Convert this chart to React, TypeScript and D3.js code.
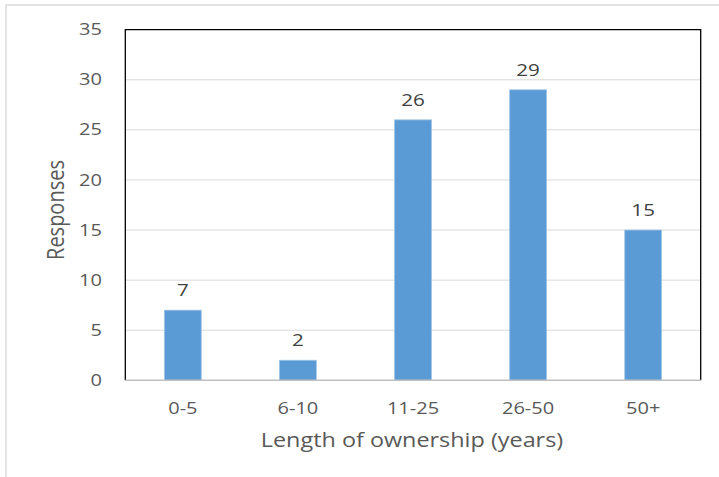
import React from "react";
import * as d3 from "d3";

const categories = ["0-5", "6-10", "11-25", "26-50", "50+"];
const responses = [7, 2, 26, 29, 15];
const yTicks = [0, 5, 10, 15, 20, 25, 30, 35];
const xTitle = "Length of ownership (years)";
const yTitle = "Responses";

const W = 719;
const H = 477;
const plot = { left: 125.3, right: 700.7, top: 29.7, bottom: 380.3 };
const FONT = "'Open Sans', 'Noto Sans', sans-serif";
const TEXT = "#595959";
const KS = 1.25; // horizontal stretch for small labels
const KT = 1.17; // horizontal stretch for titles

export default function App() {
  const x = d3
    .scaleBand<string>()
    .domain(categories)
    .range([plot.left, plot.right])
    .paddingInner(0.68)
    .paddingOuter(0.34);
  const y = d3.scaleLinear().domain([0, 35]).range([plot.bottom, plot.top]);

  return (
    <svg
      width={W}
      height={H}
      style={{ position: "absolute", left: 0, top: 0, background: "#fff" }}
      fontFamily={FONT}
    >
      <rect x={0} y={0} width={W} height={H} fill="#fff" />
      {/* outer chart frame */}
      <rect x={6} y={5} width={W + 10} height={H + 10} fill="none" stroke="#e3e3e3" strokeWidth={2} />

      {/* gridlines */}
      {yTicks.filter((t) => t > 0 && t < 35).map((t) => (
        <line key={t} x1={plot.left} x2={plot.right} y1={y(t)} y2={y(t)} stroke="#d9d9d9" strokeWidth={1} />
      ))}

      {/* bars */}
      {categories.map((c, i) => (
        <rect
          key={c}
          x={x(c)!}
          y={y(responses[i])}
          width={x.bandwidth()}
          height={y(0) - y(responses[i])}
          fill="#5B9BD5"
          stroke="#9DC3E6"
          strokeWidth={0.8}
        />
      ))}

      {/* plot border */}
      <polyline
        points={`${plot.left},${plot.bottom} ${plot.left},${plot.top} ${plot.right},${plot.top} ${plot.right},${plot.bottom}`}
        fill="none"
        stroke="#000"
        strokeWidth={1.3}
      />
      <line x1={plot.left} x2={plot.right} y1={y(0)} y2={y(0)} stroke="#bfbfbf" strokeWidth={1.5} />

      {/* data labels */}
      {categories.map((c, i) => (
        <text
          key={c}
          transform={`translate(${x(c)! + x.bandwidth() / 2},${y(responses[i]) - 14}) scale(${KS},1)`}
          textAnchor="middle"
          fontSize={16.5}
          fill="#404040"
        >
          {responses[i]}
        </text>
      ))}

      {/* y ticks */}
      {yTicks.map((t) => (
        <text
          key={t}
          transform={`translate(102,${y(t) + 5.6}) scale(${KS},1)`}
          textAnchor="end"
          fontSize={16}
          fill={TEXT}
        >
          {t}
        </text>
      ))}

      {/* x ticks */}
      {categories.map((c) => (
        <text
          key={c}
          transform={`translate(${x(c)! + x.bandwidth() / 2},414) scale(${KS},1)`}
          textAnchor="middle"
          fontSize={16}
          fill={TEXT}
        >
          {c}
        </text>
      ))}

      {/* axis titles */}
      <text
        transform={`translate(${(plot.left + plot.right) / 2 - 1},447) scale(${KT},1)`}
        textAnchor="middle"
        fontSize={20}
        fill={TEXT}
      >
        {xTitle}
      </text>
      <text
        transform={`translate(64,${210}) scale(${KT},1) rotate(-90)`}
        textAnchor="middle"
        fontSize={20}
        fill={TEXT}
      >
        {yTitle}
      </text>
    </svg>
  );
}
